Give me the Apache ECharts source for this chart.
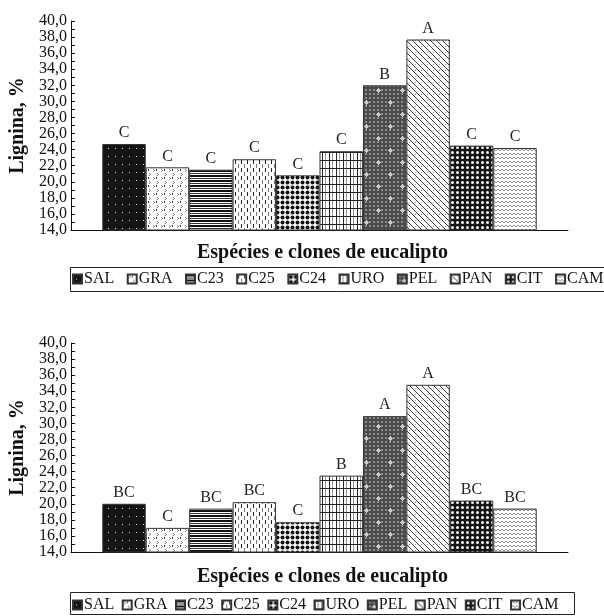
<!DOCTYPE html>
<html>
<head>
<meta charset="utf-8">
<script src="https://cdn.jsdelivr.net/npm/echarts@6/dist/echarts.min.js"></script>
<style>
  html, body { margin: 0; padding: 0; background: #fff; }
  #chart { width: 604px; height: 616px; }
</style>
</head>
<body>
<div id="chart"></div>
<script>
// Lignin content (%) of eucalyptus species and clones, two panels
const species = ['SAL', 'GRA', 'C23', 'C25', 'C24', 'URO', 'PEL', 'PAN', 'CIT', 'CAM'];
const ligninTop = [24.7, 21.8, 21.5, 22.8, 20.8, 23.8, 32.0, 37.7, 24.5, 24.2];
const lettersTop = ['C', 'C', 'C', 'C', 'C', 'C', 'B', 'A', 'C', 'C'];
const ligninBottom = [20.0, 17.0, 19.4, 20.2, 17.7, 23.5, 30.9, 34.8, 20.4, 19.4];
const lettersBottom = ['BC', 'C', 'BC', 'BC', 'C', 'B', 'A', 'A', 'BC', 'BC'];
const yMin = 14, yMax = 40, yStep = 2;
const xTitle = 'Espécies e clones de eucalipto';
const yTitle = 'Lignina, %';

const SERIF = "'Liberation Serif', 'DejaVu Serif', serif";

// ---- hatch / texture tiles for each bar ----
function tile(w, h, draw) {
  const c = document.createElement('canvas');
  c.width = w; c.height = h;
  const g = c.getContext('2d');
  draw(g, w, h);
  return { image: c, repeat: 'repeat' };
}
function px(g, x, y, w, h, col) { g.fillStyle = col; g.fillRect(x, y, w, h); }

const fills = [
  // SAL: black with sparse white dots
  tile(7, 8, (g, w, h) => { px(g, 0, 0, w, h, '#141414'); px(g, 3, 4, 1, 1, '#dddddd'); }),
  // GRA: white with small grey chevrons
  tile(8, 8, (g, w, h) => {
    px(g, 0, 0, w, h, '#ffffff');
    px(g, 1, 1, 1, 1, '#888'); px(g, 2, 2, 1, 1, '#888'); px(g, 1, 3, 1, 1, '#888');
    px(g, 5, 5, 1, 1, '#888'); px(g, 6, 6, 1, 1, '#888'); px(g, 5, 7, 1, 1, '#888');
    px(g, 4, 1, 1, 2, '#333');
  }),
  // C23: dense horizontal stripes
  tile(4, 5, (g, w, h) => {
    px(g, 0, 0, w, h, '#ffffff');
    px(g, 0, 0, w, 2, '#111'); px(g, 0, 3, w, 1, '#333');
  }),
  // C25: vertical dashes
  tile(6, 8, (g, w, h) => {
    px(g, 0, 0, w, h, '#ffffff');
    px(g, 1, 0, 1, 4, '#222'); px(g, 4, 4, 1, 4, '#777');
  }),
  // C24: black dots
  tile(5, 5, (g, w, h) => {
    px(g, 0, 0, w, h, '#ffffff');
    g.fillStyle = '#111'; g.beginPath(); g.arc(2.5, 2.5, 2.0, 0, Math.PI * 2); g.fill();
  }),
  // URO: square grid
  tile(7, 8, (g, w, h) => {
    px(g, 0, 0, w, h, '#ffffff');
    px(g, 0, 0, 1, h, '#222'); px(g, 3, 0, 1, h, '#999'); px(g, 0, 0, w, 1, '#222');
  }),
  // PEL: dark grey checks with light crosses
  tile(24, 24, (g, w, h) => {
    px(g, 0, 0, w, h, '#4b4b4b');
    for (let y = 0; y < h; y += 4) for (let x = 0; x < w; x += 4) px(g, x + 1, y + 1, 2, 2, '#8c8c8c');
    [[6, 6], [18, 18]].forEach(([cx, cy]) => {
      px(g, cx - 2, cy, 5, 1, '#e0e0e0'); px(g, cx, cy - 2, 1, 5, '#e0e0e0');
      px(g, cx - 1, cy - 1, 3, 3, '#c8c8c8');
    });
  }),
  // PAN: diagonal lines
  tile(6, 6, (g, w, h) => {
    px(g, 0, 0, w, h, '#ffffff');
    for (let i = 0; i < 6; i++) px(g, i, i, 1, 1, '#3a3a3a');
    px(g, 1, 4, 1, 1, '#999');
  }),
  // CIT: black with white rounded dots
  tile(5, 5, (g, w, h) => {
    px(g, 0, 0, w, h, '#151515');
    g.fillStyle = '#f4f4f4'; g.beginPath(); g.arc(2.5, 2.5, 1.5, 0, Math.PI * 2); g.fill();
  }),
  // CAM: grey zigzags
  tile(8, 4, (g, w, h) => {
    px(g, 0, 0, w, h, '#ffffff');
    g.strokeStyle = '#8a8a8a'; g.lineWidth = 1;
    g.beginPath(); g.moveTo(0, 3); g.lineTo(2, 1); g.lineTo(4, 3); g.lineTo(6, 1); g.lineTo(8, 3); g.stroke();
  })
];

const grids = [
  { left: 71, right: 36, top: 21, height: 209 },
  { left: 71, right: 36, top: 343, height: 209 }
];

function yAxis(gi) {
  return {
    type: 'value', gridIndex: gi, min: yMin, max: yMax, interval: yStep,
    name: yTitle, nameLocation: 'middle', nameRotate: 90, nameGap: 40,
    nameTextStyle: { fontFamily: SERIF, fontSize: 20, fontWeight: 'bold', color: '#111' },
    axisLine: { show: true, lineStyle: { color: '#111', width: 1 } },
    axisTick: { show: true, inside: true, length: 4, lineStyle: { color: '#111' } },
    minorTick: { show: true, splitNumber: 2, length: 4, lineStyle: { color: '#111' } },
    splitLine: { show: false },
    axisLabel: {
      fontFamily: SERIF, fontSize: 16, color: '#111', margin: 4,
      formatter: v => v.toFixed(1).replace('.', ',')
    }
  };
}
function xAxis(gi) {
  return {
    type: 'category', gridIndex: gi, data: [''],
    axisLine: { show: true, lineStyle: { color: '#111', width: 1 } },
    axisTick: { show: false }, axisLabel: { show: false }, splitLine: { show: false }
  };
}

function panelSeries(gi, values, letters) {
  return species.map((name, i) => ({
    name, type: 'bar', xAxisIndex: gi, yAxisIndex: gi,
    data: [values[i]],
    barGap: '0%', barCategoryGap: '12.6%',
    itemStyle: { color: fills[i], borderColor: '#333', borderWidth: 1 },
    label: {
      show: true, position: 'top', distance: 3,
      fontFamily: SERIF, fontSize: 16, color: '#222',
      formatter: () => letters[i]
    },
    emphasis: { disabled: true }
  }));
}

function legend(top, fontSize, gap) {
  return {
    data: species, left: 72, top, orient: 'horizontal',
    itemWidth: 9, itemHeight: 9, itemGap: gap, padding: 0,
    icon: 'rect', selectedMode: false,
    textStyle: { fontFamily: SERIF, fontSize, color: '#111', padding: [0, 0, 0, -3] }
  };
}

const chart = echarts.init(document.getElementById('chart'), null, { renderer: 'canvas' });
chart.setOption({
  animation: false,
  backgroundColor: '#ffffff',
  grid: grids,
  xAxis: [xAxis(0), xAxis(1)],
  yAxis: [yAxis(0), yAxis(1)],
  legend: [legend(271, 16, 12.5), legend(597, 16, 7.5)],
  series: panelSeries(0, ligninTop, lettersTop).concat(panelSeries(1, ligninBottom, lettersBottom)),
  graphic: [
    { type: 'text', left: 197, top: 243, style: { text: xTitle, font: "bold 20px " + SERIF, fill: '#111' } },
    { type: 'text', left: 197, top: 567, style: { text: xTitle, font: "bold 20px " + SERIF, fill: '#111' } },
    { type: 'rect', shape: { x: 70.5, y: 267.5, width: 540, height: 24 }, style: { fill: 'none', stroke: '#222', lineWidth: 1 } },
    { type: 'rect', shape: { x: 70.5, y: 592.5, width: 504, height: 22 }, style: { fill: 'none', stroke: '#222', lineWidth: 1 } }
  ]
});
</script>
</body>
</html>
